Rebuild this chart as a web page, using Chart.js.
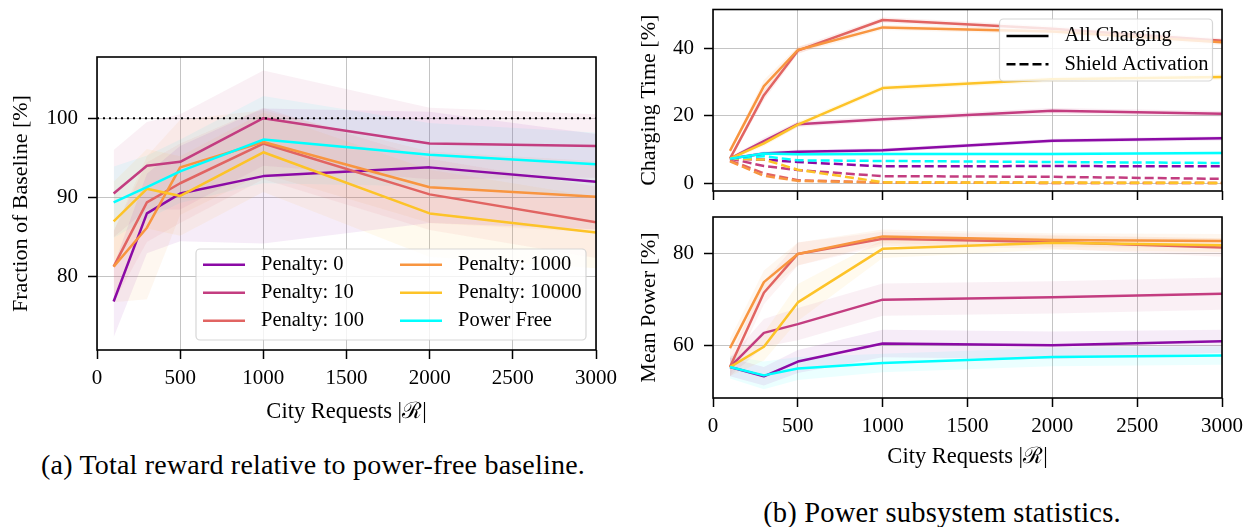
<!DOCTYPE html>
<html>
<head>
<meta charset="utf-8">
<script src="https://cdn.jsdelivr.net/npm/chart.js@4.4.1/dist/chart.umd.min.js"></script>
<style>
body { margin: 0; width: 1256px; height: 527px; background: #fff; position: relative; overflow: hidden; font-family: 'Liberation Serif', serif; }
canvas { position: absolute; }
.cap { position: absolute; font-family: 'Liberation Serif', serif; font-size: 28px; letter-spacing: 0.2px; white-space: nowrap; color: #000; transform: translate(-50%, -50%); }
</style>
</head>
<body>
<canvas id="chartA" width="620" height="440" style="left:0;top:0"></canvas>
<canvas id="chartB" width="636" height="210" style="left:620px;top:0"></canvas>
<canvas id="chartC" width="636" height="280" style="left:620px;top:205px"></canvas>
<div class="cap" style="left:313px;top:465px">(a) Total reward relative to power-free baseline.</div>
<div class="cap" style="left:942px;top:513px;font-size:28.5px">(b) Power subsystem statistics.</div>
<script>
// x positions (city requests) and tick lists
const requests = [100, 300, 500, 1000, 2000, 3000];
const xTicks = [0, 500, 1000, 1500, 2000, 2500, 3000];
const seriesNames = ['Penalty: 0', 'Penalty: 10', 'Penalty: 100', 'Penalty: 1000', 'Penalty: 10000', 'Power Free'];
const seriesColors = ['#8b0aa5', '#c33d80', '#e16462', '#f89540', '#fdc328', '#00ffff'];

// (a) fraction of baseline [%]
const rewardTicks = [80, 90, 100];
const baselineLevel = 100;
const rewardMean = [
	[76.9, 88.0, 90.5, 92.7, 93.8, 92.0],
	[90.5, 94.0, 94.5, 100.0, 96.8, 96.5],
	[81.3, 89.4, 91.8, 96.8, 90.4, 86.9],
	[81.3, 86.2, 93.8, 97.0, 91.3, 90.1],
	[87.0, 91.1, 90.2, 95.7, 88.0, 85.6],
	[89.4, 91.3, 93.3, 97.3, 95.4, 94.2],
];
const rewardSpread = [
	[4.5, 5.0, 6.0, 8.5, 7.0, 6.0],
	[5.5, 5.5, 6.0, 6.0, 4.5, 4.0],
	[4.5, 5.0, 5.0, 4.5, 4.5, 4.5],
	[4.5, 9.0, 6.0, 4.0, 4.5, 4.5],
	[5.0, 5.0, 5.0, 5.0, 5.5, 4.5],
	[4.5, 4.0, 4.0, 5.5, 4.0, 4.0],
];

// (b) top: charging time [%]
const chargeTicks = [0, 20, 40];
const chargeAll = [
	[7.3, 8.8, 9.3, 9.8, 12.6, 13.3],
	[7.3, 12.5, 17.5, 19.0, 21.5, 20.6],
	[7.3, 26.1, 39.3, 48.4, 45.8, 42.2],
	[9.6, 28.8, 39.5, 46.2, 45.0, 41.8],
	[7.3, 11.8, 17.4, 28.2, 30.8, 31.5],
	[7.3, 8.8, 8.6, 8.7, 8.7, 9.0],
];
const chargeSpread = [
	[0.5, 0.6, 0.6, 0.6, 0.6, 0.6],
	[0.5, 1.0, 0.8, 0.8, 0.8, 0.8],
	[0.6, 1.5, 1.0, 0.8, 0.8, 0.8],
	[0.6, 1.8, 1.0, 0.8, 0.8, 0.8],
	[0.5, 0.8, 0.8, 0.8, 0.8, 0.8],
	[0.5, 0.5, 0.5, 0.5, 0.5, 0.5],
];
const shieldAct = [
	[7.3, 7.0, 6.3, 5.0, 5.1, 5.0],
	[7.3, 5.1, 3.9, 2.1, 1.9, 1.3],
	[6.8, 2.9, 0.9, 0.2, 0.1, 0.1],
	[6.5, 2.2, 0.7, 0.2, 0.1, 0.1],
	[7.3, 7.0, 4.0, 0.3, 0.2, 0.1],
	[7.3, 8.0, 6.8, 6.6, 6.3, 6.0],
];

// (b) bottom: mean power [%]
const powerTicks = [60, 80];
const powerMean = [
	[55.3, 53.3, 56.5, 60.4, 60.0, 60.9],
	[55.3, 62.7, 64.6, 69.9, 70.4, 71.2],
	[55.3, 71.4, 79.8, 83.1, 82.4, 81.2],
	[59.4, 73.7, 79.8, 83.6, 82.8, 82.6],
	[55.3, 59.7, 69.3, 80.9, 82.2, 81.7],
	[55.3, 53.5, 55.0, 56.2, 57.5, 57.8],
];
const powerSpread = [
	[2.0, 2.0, 2.5, 3.0, 3.0, 2.5],
	[2.0, 3.0, 3.5, 3.5, 3.5, 3.5],
	[2.0, 2.5, 2.5, 1.5, 1.5, 2.0],
	[2.0, 2.5, 2.5, 1.5, 1.5, 1.5],
	[2.0, 3.0, 4.0, 2.0, 1.5, 1.5],
	[2.5, 3.0, 2.5, 2.0, 2.0, 2.0],
];

const serif = "'Liberation Serif', serif";
Chart.defaults.font.family = serif;
Chart.defaults.color = '#000';
const gridColor = 'rgba(176,176,176,0.75)';

function pts(vals) {
	return requests.map((r, i) => ({ x: r, y: vals[i] }));
}

function alpha(hex, a) {
	const n = parseInt(hex.slice(1), 16);
	return `rgba(${(n >> 16) & 255},${(n >> 8) & 255},${n & 255},${a})`;
}

//shaded band between mean - spread and mean + spread
function bandSets(means, spreads, a) {
	const out = [];
	means.forEach((m, k) => {
		out.push({ data: pts(m.map((v, i) => v + spreads[k][i])), fill: '+1', backgroundColor: alpha(seriesColors[k], a),
			borderColor: 'transparent', borderWidth: 0, pointRadius: 0, order: 1000 + k });
		out.push({ data: pts(m.map((v, i) => v - spreads[k][i])), fill: false,
			borderColor: 'transparent', borderWidth: 0, pointRadius: 0, order: 1000 + k });
	});
	return out;
}

function lineSets(means, dash, base) {
	return means.map((m, k) => ({
		data: pts(m), borderColor: seriesColors[k], borderWidth: 2.5, borderDash: dash,
		pointRadius: 0, fill: false, tension: 0, borderJoinStyle: 'round', order: base - k,
	}));
}

function xScale(height, showLabels) {
	return {
		type: 'linear', min: 0, max: 3000,
		afterBuildTicks: s => { s.ticks = xTicks.map(v => ({ value: v })); },
		afterFit: s => { s.height = height; s.paddingLeft = 0; s.paddingRight = 0; },
		grid: { color: gridColor, lineWidth: 1, tickColor: '#000', tickLength: 9, tickWidth: 1.5 },
		border: { display: false },
		ticks: { display: showLabels, font: { family: serif, size: 21 }, padding: 7, maxRotation: 0, autoSkip: false, callback: v => String(v) },
		title: { display: showLabels, text: 'City Requests |\u211B|', font: { family: serif, size: 22.5 }, padding: { top: 0, bottom: showLabels ? 14 : 0 } },
	};
}

function yScale(min, max, ticks, width, title, titlePad) {
	return {
		min: min, max: max,
		afterBuildTicks: s => { s.ticks = ticks.map(v => ({ value: v })); },
		afterFit: s => { s.width = width; s.paddingTop = 0; s.paddingBottom = 0; },
		grid: { color: gridColor, lineWidth: 1, tickColor: '#000', tickLength: 9, tickWidth: 1.5 },
		border: { display: false },
		ticks: { font: { family: serif, size: 21 }, padding: 10, autoSkip: false, callback: v => String(v) },
		title: { display: true, text: title, font: { family: serif, size: 22 }, padding: { top: titlePad, bottom: 0 } },
	};
}

//black box round the plot area
const frame = {
	id: 'frame',
	afterDatasetsDraw(chart) {
		const { ctx, chartArea: a } = chart;
		ctx.save();
		ctx.strokeStyle = '#000';
		ctx.lineWidth = 1.6;
		ctx.strokeRect(a.left, a.top, a.right - a.left, a.bottom - a.top);
		ctx.restore();
	}
};

//matplotlib style legend box inside the axes
const boxLegend = {
	id: 'boxLegend',
	afterDraw(chart, args, o) {
		if (!o.items) return;
		const { ctx, chartArea: a } = chart;
		const x0 = a.right - o.inset - o.width;
		const y0 = o.corner === 'top' ? a.top + o.inset : a.bottom - o.inset - o.height;
		ctx.save();
		ctx.beginPath();
		ctx.roundRect(x0, y0, o.width, o.height, 4);
		ctx.fillStyle = 'rgba(255,255,255,0.8)';
		ctx.fill();
		ctx.strokeStyle = 'rgba(204,204,204,0.8)';
		ctx.lineWidth = 1.2;
		ctx.stroke();
		ctx.font = '20.5px ' + serif;
		ctx.textBaseline = 'middle';
		ctx.fillStyle = '#000';
		o.items.forEach((it, k) => {
			const col = Math.floor(k / o.rows), row = k % o.rows;
			const y = y0 + o.firstRow + row * o.rowStep;
			const lx = x0 + 7 + col * o.colStep;
			ctx.beginPath();
			ctx.setLineDash(it.dash || []);
			ctx.strokeStyle = it.color;
			ctx.lineWidth = 2.5;
			ctx.moveTo(lx, y);
			ctx.lineTo(lx + 42, y);
			ctx.stroke();
			ctx.setLineDash([]);
			ctx.fillText(it.label, x0 + o.textOff + col * o.colStep, y);
		});
		ctx.restore();
	}
};

function baseOptions(padding, scales, legendOpts) {
	return {
		responsive: false,
		animation: false,
		layout: { padding: padding },
		scales: scales,
		plugins: { legend: { display: false }, tooltip: { enabled: false }, boxLegend: legendOpts },
	};
}

// (a)
new Chart(document.getElementById('chartA'), {
	type: 'line',
	data: {
		datasets: [
			...bandSets(rewardMean, rewardSpread, 0.08),
			...lineSets(rewardMean, [], 100),
			{ data: [{ x: 0, y: baselineLevel }, { x: 3000, y: baselineLevel }], borderColor: '#000', borderWidth: 2,
				borderDash: [2, 4], pointRadius: 0, fill: false, order: 1 },
		],
	},
	options: baseOptions({ top: 57, right: 24, left: 0, bottom: 0 }, {
		x: xScale(90, true),
		y: yScale(70.8, 107.7, rewardTicks, 97, 'Fraction of Baseline [%]', 8),
	}, {
		items: seriesNames.map((n, k) => ({ label: n, color: seriesColors[k] })),
		rows: 3, width: 390, height: 91, inset: 10, firstRow: 15.7, rowStep: 28, colStep: 197, textOff: 65,
	}),
	plugins: [frame, boxLegend],
});

// (b) top
new Chart(document.getElementById('chartB'), {
	type: 'line',
	data: {
		datasets: [
			...bandSets(chargeAll, chargeSpread, 0.1),
			...lineSets(shieldAct, [9, 4], 200),
			...lineSets(chargeAll, [], 100),
		],
	},
	options: baseOptions({ top: 9.5, right: 34, left: 0, bottom: 0 }, {
		x: xScale(19, false),
		y: yScale(-2.3, 51.5, chargeTicks, 93, 'Charging Time [%]', 16),
	}, {
		items: [{ label: 'All Charging', color: '#000' }, { label: 'Shield Activation', color: '#000', dash: [9, 4] }],
		rows: 2, width: 213, height: 62, inset: 9.5, firstRow: 17, rowStep: 28.3, colStep: 0, textOff: 65, corner: 'top',
	}),
	plugins: [frame, boxLegend],
});

// (b) bottom
new Chart(document.getElementById('chartC'), {
	type: 'line',
	data: {
		datasets: [
			...bandSets(powerMean, powerSpread, 0.08),
			...lineSets(powerMean, [], 100),
		],
	},
	options: baseOptions({ top: 12, right: 34, left: 0, bottom: 0 }, {
		x: xScale(87, true),
		y: yScale(48.6, 87.8, powerTicks, 93, 'Mean Power [%]', 16),
	}, {}),
	plugins: [frame, boxLegend],
});
</script>
</body>
</html>
